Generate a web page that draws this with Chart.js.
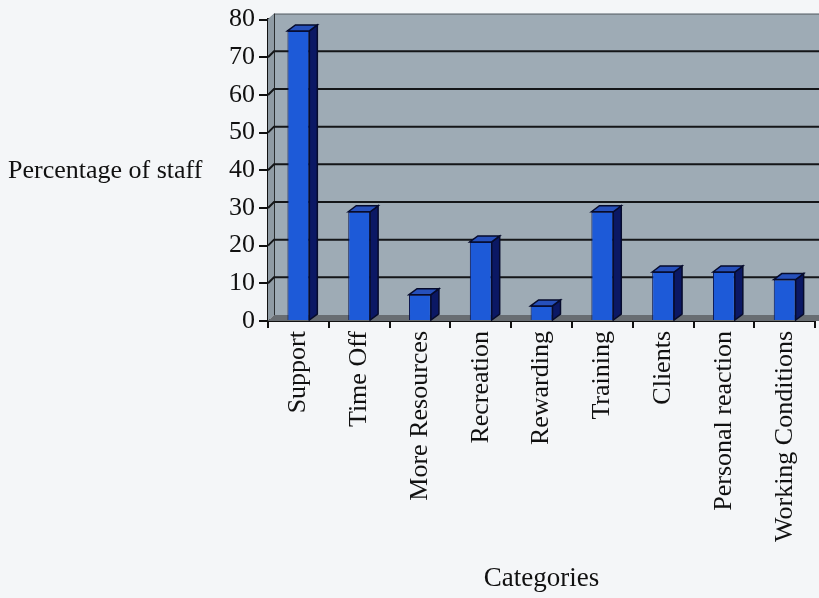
<!DOCTYPE html>
<html>
<head>
<meta charset="utf-8">
<script src="https://cdn.jsdelivr.net/npm/chart.js@4.4.1/dist/chart.umd.min.js"></script>
<style>
  body { margin: 0; background: #f4f6f8; }
  #wrap { width: 819px; height: 598px; }
</style>
</head>
<body>
<div id="wrap"><canvas id="chart"></canvas></div>
<script>
// data
const categories = ['Support', 'Time Off', 'More Resources', 'Recreation', 'Rewarding',
                    'Training', 'Clients', 'Personal reaction', 'Working Conditions'];
const staffPercent = [77, 29, 7, 21, 4, 29, 13, 13, 11];
const yMin = 0, yMax = 80, yStep = 10;
const yTitle = 'Percentage of staff';
const xTitle = 'Categories';

const serif = "'Liberation Serif', 'DejaVu Serif', serif";

// fake 3D: back wall, floor and grid lines pushed back, bars get a side and a top
const WALL_DX = 6, WALL_DY = 6;
const BAR_DX = 8, BAR_DY = 6;

const wall3d = {
  id: 'wall3d',
  beforeDatasetsDraw(chart) {
    const { ctx, chartArea: a, scales: { y } } = chart;
    const w = a.right - a.left + 20;
    ctx.save();
    // back wall
    ctx.fillStyle = '#9eabb5';
    ctx.fillRect(a.left + WALL_DX, a.top - WALL_DY, w, a.bottom - a.top);
    ctx.strokeStyle = '#5d6468';
    ctx.lineWidth = 1;
    ctx.beginPath();
    ctx.moveTo(a.left, a.top);
    ctx.lineTo(a.left + WALL_DX, a.top - WALL_DY + 0.5);
    ctx.lineTo(a.left + WALL_DX + w, a.top - WALL_DY + 0.5);
    ctx.stroke();
    // left wall
    ctx.fillStyle = '#8f9ba4';
    ctx.beginPath();
    ctx.moveTo(a.left, a.top);
    ctx.lineTo(a.left + WALL_DX, a.top - WALL_DY);
    ctx.lineTo(a.left + WALL_DX, a.bottom - WALL_DY);
    ctx.lineTo(a.left, a.bottom);
    ctx.closePath();
    ctx.fill();
    ctx.strokeStyle = '#2a2e30';
    ctx.beginPath();
    ctx.moveTo(a.left + WALL_DX + 0.5, a.top - WALL_DY);
    ctx.lineTo(a.left + WALL_DX + 0.5, a.bottom - WALL_DY);
    ctx.stroke();
    // floor
    ctx.fillStyle = '#686d72';
    ctx.beginPath();
    ctx.moveTo(a.left, a.bottom);
    ctx.lineTo(a.left + WALL_DX, a.bottom - WALL_DY);
    ctx.lineTo(a.left + WALL_DX + w, a.bottom - WALL_DY);
    ctx.lineTo(a.left + w, a.bottom);
    ctx.closePath();
    ctx.fill();
    // grid lines on the back wall
    ctx.strokeStyle = '#141618';
    ctx.lineWidth = 2;
    y.ticks.forEach(t => {
      if (t.value === yMin || t.value === yMax) return;
      const py = y.getPixelForValue(t.value);
      ctx.beginPath();
      ctx.moveTo(a.left, py);
      ctx.lineTo(a.left + WALL_DX, py - WALL_DY);
      ctx.lineTo(a.left + WALL_DX + w, py - WALL_DY);
      ctx.stroke();
    });
    ctx.restore();
  },
  afterDatasetsDraw(chart) {
    const { ctx } = chart;
    const meta = chart.getDatasetMeta(0);
    ctx.save();
    ctx.lineWidth = 1.5;
    ctx.strokeStyle = '#060b2c';
    meta.data.forEach(bar => {
      const { x, y, base, width } = bar.getProps(['x', 'y', 'base', 'width'], true);
      const l = x - width / 2, r = x + width / 2;
      // side
      ctx.fillStyle = '#0b1864';
      ctx.beginPath();
      ctx.moveTo(r, y);
      ctx.lineTo(r + BAR_DX, y - BAR_DY);
      ctx.lineTo(r + BAR_DX, base - BAR_DY);
      ctx.lineTo(r, base);
      ctx.closePath();
      ctx.fill();
      ctx.stroke();
      // top
      ctx.fillStyle = '#2650bb';
      ctx.beginPath();
      ctx.moveTo(l, y);
      ctx.lineTo(l + BAR_DX, y - BAR_DY);
      ctx.lineTo(r + BAR_DX, y - BAR_DY);
      ctx.lineTo(r, y);
      ctx.closePath();
      ctx.fill();
      ctx.stroke();
    });
    ctx.restore();
  },
  afterDraw(chart) {
    const { ctx, chartArea: a } = chart;
    ctx.save();
    ctx.fillStyle = '#111';
    ctx.font = '26px ' + serif;
    ctx.textAlign = 'left';
    ctx.textBaseline = 'middle';
    ctx.fillText(yTitle, 8, (a.top + a.bottom) / 2 + 1);
    ctx.restore();
  }
};

const ctx = document.getElementById('chart').getContext('2d');
new Chart(ctx, {
  type: 'bar',
  data: {
    labels: categories,
    datasets: [{
      label: yTitle,
      data: staffPercent,
      backgroundColor: '#1d5ad8',
      borderColor: '#0a1550',
      borderWidth: 1,
      barPercentage: 0.36,
      categoryPercentage: 1
    }]
  },
  options: {
    responsive: true,
    maintainAspectRatio: false,
    animation: false,
    layout: { padding: { left: 0, top: 18, right: 2, bottom: 0 } },
    plugins: {
      legend: { display: false },
      tooltip: { enabled: false }
    },
    scales: {
      x: {
        afterFit: s => { s.height = 277; },
        grid: { drawOnChartArea: false, drawTicks: true, tickLength: 7, color: '#111', lineWidth: 2 },
        border: { color: '#111', width: 2 },
        ticks: {
          minRotation: 90, maxRotation: 90, autoSkip: false, padding: 3,
          color: '#111', font: { family: serif, size: 26 }
        },
        title: {
          display: true, text: xTitle, color: '#111',
          font: { family: serif, size: 27 }, padding: { top: 0, bottom: 3 }
        }
      },
      y: {
        min: yMin, max: yMax,
        afterFit: s => { s.width = 268; },
        grid: { drawOnChartArea: false, drawTicks: true, tickLength: 9, color: '#111', lineWidth: 2 },
        border: { color: '#111', width: 3 },
        ticks: {
          stepSize: yStep, padding: 4, color: '#111',
          font: { family: serif, size: 26 }
        }
      }
    }
  },
  plugins: [wall3d]
});
</script>
</body>
</html>
